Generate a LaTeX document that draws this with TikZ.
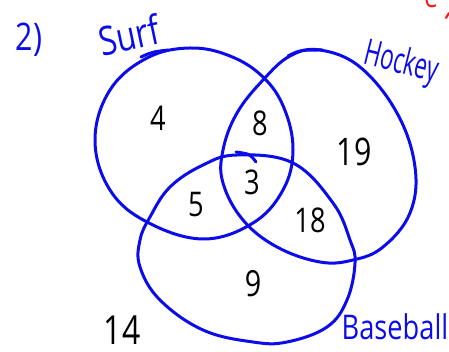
\documentclass[tikz,border=0pt]{standalone}
\usepackage{fontspec}
\newfontfamily\hand[FakeStretch=0.8]{Open Sans}
\newfontfamily\handn[FakeStretch=0.62]{Open Sans}
\definecolor{penblue}{RGB}{12,12,235}
\definecolor{penred}{RGB}{240,20,20}
\begin{document}
\begin{tikzpicture}[x=1pt,y=-1pt,
  ring/.style={draw=penblue,line width=3pt,line cap=round,line join=round},
  num/.style={font=\hand\fontsize{34}{34}\selectfont,text=black,inner sep=0pt},
  lab/.style={text=penblue,inner sep=0pt}]
\useasboundingbox (0,0) rectangle (449,352);
\clip (0,0) rectangle (449,352);
% Surf
\draw[ring] plot[smooth cycle,tension=0.65] coordinates {(190,48) (230,56) (263,77) (284,108) (293,150) (283,190) (253,223) (203,239) (147,222) (110,190) (95,140) (110,90) (147,58)};
\draw[ring] (141,57) .. controls (152,52) .. (168,50);
% Hockey
\draw[ring] plot[smooth cycle,tension=0.65] coordinates {(320,50) (360,67) (397,113) (415,167) (410,213) (383,247) (353,260) (320,262) (277,247) (243,220) (223,183) (223,150) (237,113) (263,80) (290,56)};
\draw[ring] (288,56) .. controls (300,50) .. (322,50);
% Baseball
\draw[ring] plot[smooth cycle,tension=0.65] coordinates {(237,155) (293,163) (333,203) (350,240) (355,263) (347,300) (327,327) (287,342) (253,342) (203,330) (160,300) (140,267) (140,240) (150,217) (170,187) (203,165)};
\draw[ring] (236,152) .. controls (250,154) .. (256,162);
% numbers
\node[num] (n4) at (158,118) {4};
\node[num] (n8) at (260,123) {8};
\node[num] (n3) at (252,182) {3};
\node[num] (n5) at (196,205) {5};
\node[num,font=\hand\fontsize{38}{38}\selectfont] (n19) at (354,152) {19};
\node[num] (n18) at (310,220) {18};
\node[num,font=\hand\fontsize{36}{36}\selectfont] (n9) at (253,284) {9};
\node[num,font=\hand\fontsize{40}{40}\selectfont] (n14) at (122,330) {14};
% labels
\node[lab,font=\hand\fontsize{38}{38}\selectfont] (two) at (29,40) {2)};
\node[lab,font=\hand\fontsize{40}{40}\selectfont,rotate=12] (surf) at (129,35) {Surf};
\node[lab,font=\handn\fontsize{36}{36}\selectfont,rotate=-14] (hockey) at (401,64) {Hockey};
\node[lab,font=\hand\fontsize{34}{34}\selectfont] (base) at (395,327) {Baseball};
\node[inner sep=0pt,text=penred,font=\hand\fontsize{30}{30}\selectfont] (ered) at (431,-1) {e};
\draw[penred,line width=2pt,line cap=round] (449,13) -- (446,18);
\end{tikzpicture}
\end{document}
